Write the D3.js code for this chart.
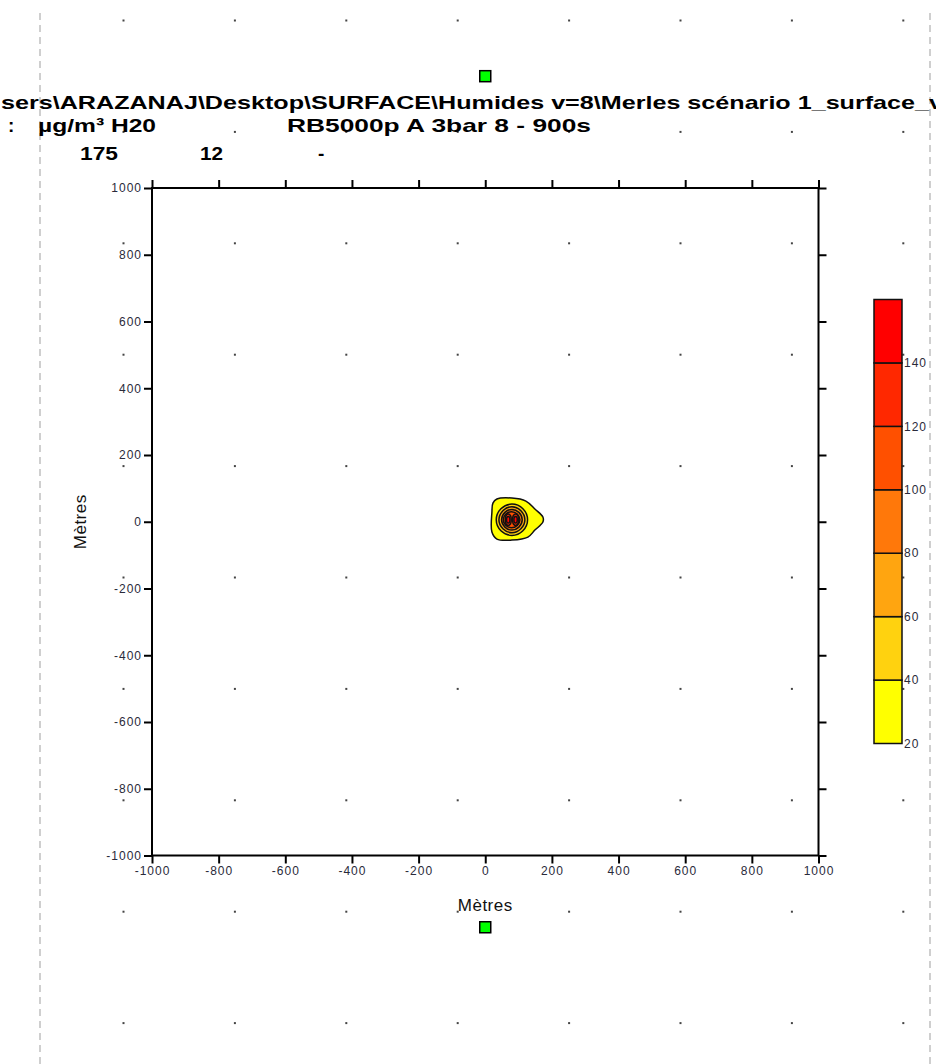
<!DOCTYPE html>
<html>
<head>
<meta charset="utf-8">
<script src="https://cdn.jsdelivr.net/npm/d3@7"></script>
<style>
  html, body { margin: 0; padding: 0; background: #fff; }
  svg { display: block; }
  .tick-label { font-family: "Liberation Sans", Arial, sans-serif; font-size: 12px; fill: #2a2a3a; }
  .title { font-family: "Liberation Sans", Arial, sans-serif; font-weight: bold; font-size: 19px; fill: #000; }
  .axis-title { font-family: "Liberation Sans", Arial, sans-serif; font-size: 17px; fill: #111; }
</style>
</head>
<body>
<div id="chart"></div>
<script>
// ---- data ----
const xTicks = [-1000, -800, -600, -400, -200, 0, 200, 400, 600, 800, 1000];
const yTicks = [-1000, -800, -600, -400, -200, 0, 200, 400, 600, 800, 1000];
const levels = [20, 40, 60, 80, 100, 120, 140, 160];
const levelLabels = [20, 40, 60, 80, 100, 120, 140];
const bandColors = ["#ffff00", "#ffd20f", "#ffa510", "#ff780a", "#ff5000", "#ff2800", "#ff0000"];

// concentration isolines (µg/m³), rings as [x, y] in metres
const ring20 = [[20, 29], [23, 56], [35, 68], [80, 71], [122, 62], [149, 38], [173, 14], [173, -1], [149, -25], [128, -46], [80, -55], [35, -52], [20, -31]];
const ring40 = [[127, 6], [113, 39], [80, 53], [47, 39], [33, 6], [47, -27], [80, -41], [113, -27]];
const ring60 = [[119, 6], [107, 33], [80, 45], [53, 33], [41, 6], [53, -21], [80, -33], [107, -21]];
const ring80 = [[111, 6], [101, 28], [80, 37], [59, 28], [49, 6], [59, -16], [80, -25], [101, -16]];
const ring100 = [[104, 6], [96, 23], [79, 30], [62, 23], [54, 6], [62, -11], [79, -18], [96, -11]];
const ring120a = [[78, 6], [76, 18], [69, 23], [62, 18], [60, 6], [62, -6], [69, -11], [76, -6]];
const ring120b = [[100, 6], [98, 18], [91, 23], [84, 18], [82, 6], [84, -6], [91, -11], [98, -6]];
const ring140a = [[74, 6], [73, 13], [69, 16], [65, 13], [64, 6], [65, -1], [69, -4], [73, -1]];
const ring140b = [[96, 6], [95, 13], [91, 16], [87, 13], [86, 6], [87, -1], [91, -4], [95, -1]];
const isolines = [
  { level: 20, ring: ring20 },
  { level: 40, ring: ring40 },
  { level: 60, ring: ring60 },
  { level: 80, ring: ring80 },
  { level: 100, ring: ring100 },
  { level: 120, ring: ring120a },
  { level: 120, ring: ring120b },
  { level: 140, ring: ring140a },
  { level: 140, ring: ring140b }
];

// source markers (metres)
const markers = [[0, 1335], [0, -1215]];

// header text
const titleLine1 = "sers\\ARAZANAJ\\Desktop\\SURFACE\\Humides v=8\\Merles scénario 1_surface_v";
const titleLine2a = ":";
const titleLine2b = "µg/m³  H20";
const titleLine2c = "RB5000p A 3bar  8   - 900s";
const titleLine3 = ["175", "12", "-"];

// ---- layout ----
const W = 936, H = 1064;
const svg = d3.select("#chart").append("svg").attr("width", W).attr("height", H);

const x = d3.scaleLinear().domain([-1000, 1000]).range([152, 818.5]);
const y = d3.scaleLinear().domain([-1000, 1000]).range([855.5, 188]);

// page boundary guides
[40, 930].forEach(px => {
  svg.append("line").attr("x1", px).attr("x2", px).attr("y1", 13).attr("y2", H)
    .attr("stroke", "#cfcfcf").attr("stroke-width", 2).attr("stroke-dasharray", "7 5");
});

// background dot grid
const dotCols = d3.range(8).map(i => 123.5 + i * 111.4);
const dotRows = d3.range(10).map(i => 20.5 + i * 111.4);
const dots = svg.append("g");
dotRows.forEach(ry => dotCols.forEach(cx => {
  dots.append("rect").attr("x", cx - 1).attr("y", ry - 1).attr("width", 2).attr("height", 2).attr("fill", "#444");
}));

// header
svg.append("text").attr("class", "title").attr("x", 1).attr("y", 109)
  .attr("textLength", 942).attr("lengthAdjust", "spacingAndGlyphs").text(titleLine1);
svg.append("text").attr("class", "title").attr("x", 8).attr("y", 132).text(titleLine2a);
svg.append("text").attr("class", "title").attr("x", 38).attr("y", 132)
  .attr("textLength", 118).attr("lengthAdjust", "spacingAndGlyphs").text(titleLine2b);
svg.append("text").attr("class", "title").attr("x", 287).attr("y", 132)
  .attr("textLength", 304).attr("lengthAdjust", "spacingAndGlyphs").text(titleLine2c);
const line3X = [80, 200, 318];
const line3W = [38, 23, 0];
titleLine3.forEach((t, i) => {
  const tx = svg.append("text").attr("class", "title").attr("x", line3X[i]).attr("y", 160).text(t);
  if (line3W[i]) tx.attr("textLength", line3W[i]).attr("lengthAdjust", "spacingAndGlyphs");
});

// isoline fills
const line = d3.line().x(d => x(d[0])).y(d => y(d[1])).curve(d3.curveCatmullRomClosed.alpha(0.5));
const colorOf = d3.scaleThreshold().domain(levels.slice(1, -1)).range(bandColors);
svg.append("g").selectAll("path").data(isolines).join("path")
  .attr("d", d => line(d.ring))
  .attr("fill", d => colorOf(d.level))
  .attr("stroke", "#111").attr("stroke-width", 1.5);

// axes: four sides, outward ticks, labels left and bottom only
const tickLen = 8;
const fmt = d => String(d);
const axB = d3.axisBottom(x).tickValues(xTicks).tickSize(tickLen).tickPadding(3).tickFormat(fmt);
const axL = d3.axisLeft(y).tickValues(yTicks).tickSize(tickLen).tickPadding(2).tickFormat(fmt);
const axT = d3.axisTop(x).tickValues(xTicks).tickSize(tickLen).tickFormat("");
const axR = d3.axisRight(y).tickValues(yTicks).tickSize(tickLen).tickFormat("");

function styleAxis(g) {
  g.select(".domain").remove();
  g.selectAll(".tick line").attr("stroke", "#000").attr("stroke-width", 2);
  g.selectAll(".tick text").attr("class", "tick-label").attr("fill", null)
    .attr("letter-spacing", "1px");
}
svg.append("g").attr("transform", `translate(0,${y(-1000)})`).call(axB).call(styleAxis);
svg.append("g").attr("transform", `translate(${x(-1000)},0)`).call(axL).call(styleAxis);
svg.append("g").attr("transform", `translate(0,${y(1000)})`).call(axT).call(styleAxis);
svg.append("g").attr("transform", `translate(${x(1000)},0)`).call(axR).call(styleAxis);
svg.selectAll(".tick text").style("font-family", "'Liberation Sans', Arial, sans-serif").style("font-size", "12px");

// plot frame
svg.append("rect").attr("x", x(-1000)).attr("y", y(1000))
  .attr("width", x(1000) - x(-1000)).attr("height", y(-1000) - y(1000))
  .attr("fill", "none").attr("stroke", "#000").attr("stroke-width", 2);

// axis titles
svg.append("text").attr("class", "axis-title").attr("x", x(0)).attr("y", 911)
  .attr("text-anchor", "middle").attr("letter-spacing", "0.5px").text("Mètres");
svg.append("text").attr("class", "axis-title")
  .attr("transform", `translate(86,${y(0)}) rotate(-90)`)
  .attr("text-anchor", "middle").attr("letter-spacing", "0.5px").text("Mètres");

// source markers
svg.append("g").selectAll("rect").data(markers).join("rect")
  .attr("x", d => x(d[0]) - 5.5).attr("y", d => y(d[1]) - 5.5)
  .attr("width", 11).attr("height", 11)
  .attr("fill", "#00ff00").attr("stroke", "#000").attr("stroke-width", 1.5);

// colour legend
const cb = d3.scaleLinear().domain([20, 160]).range([743.5, 299.5]);
const cbX = 874, cbW = 28;
const bands = d3.range(bandColors.length).map(i => ({ lo: levels[i], hi: levels[i + 1], c: bandColors[i] }));
svg.append("g").selectAll("rect").data(bands).join("rect")
  .attr("x", cbX).attr("y", d => cb(d.hi)).attr("width", cbW).attr("height", d => cb(d.lo) - cb(d.hi))
  .attr("fill", d => d.c).attr("stroke", "#111").attr("stroke-width", 1.5);
svg.append("g").selectAll("text").data(levelLabels).join("text")
  .attr("class", "tick-label").attr("x", cbX + cbW + 2).attr("y", d => cb(d)).attr("dy", "0.35em")
  .attr("letter-spacing", "1px").text(d => d);
</script>
</body>
</html>
